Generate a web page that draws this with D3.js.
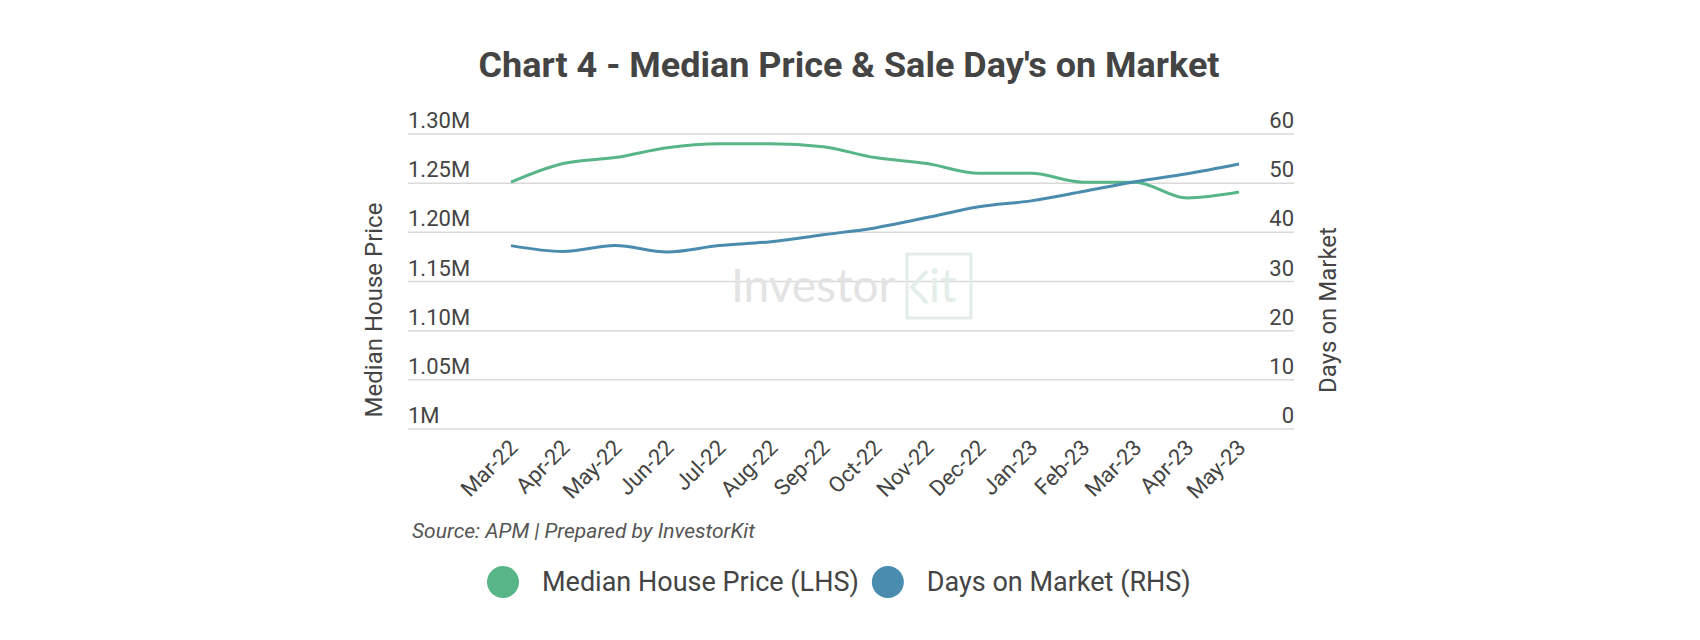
<!DOCTYPE html>
<html>
<head>
<meta charset="utf-8">
<script src="https://cdn.jsdelivr.net/npm/d3@7"></script>
<style>
  html, body { margin: 0; padding: 0; background: #fff; }
  svg { display: block; font-family: Roboto, "Noto Sans", sans-serif; }
</style>
</head>
<body>
<div id="chart"></div>
<script>
// data
const months = ["Mar-22", "Apr-22", "May-22", "Jun-22", "Jul-22", "Aug-22", "Sep-22", "Oct-22",
                "Nov-22", "Dec-22", "Jan-23", "Feb-23", "Mar-23", "Apr-23", "May-23"];
const medianPrice = [1.251, 1.270, 1.276, 1.286, 1.290, 1.290, 1.287, 1.276,
                     1.270, 1.260, 1.260, 1.251, 1.251, 1.235, 1.241];   // $M
const daysOnMarket = [37.3, 36.1, 37.3, 36.0, 37.3, 38.1, 39.5, 40.9,
                      43.0, 45.2, 46.4, 48.3, 50.3, 51.9, 53.9];
const leftTicks = [1.0, 1.05, 1.10, 1.15, 1.20, 1.25, 1.30];
const rightTicks = [0, 10, 20, 30, 40, 50, 60];
const series = [
  { name: "Median House Price (LHS)", color: "#58b588" },
  { name: "Days on Market (RHS)", color: "#4a8cae" }
];

const W = 1700, H = 640;
const ink = "#444";
const grid = { l: 408, r: 1294, t: 134, b: 429 };

const svg = d3.select("#chart").append("svg").attr("width", W).attr("height", H);

const x = d3.scaleBand().domain(months).range([485, 1265]);
const cx = m => x(m) + x.bandwidth() / 2;
const yL = d3.scaleLinear().domain([1.0, 1.3]).range([grid.b, grid.t]);
const yR = d3.scaleLinear().domain([0, 60]).range([grid.b, grid.t]);

// title
svg.append("text")
  .attr("x", 849).attr("y", 77)
  .attr("text-anchor", "middle")
  .attr("textLength", 741).attr("lengthAdjust", "spacingAndGlyphs")
  .style("font-size", "35px").style("font-weight", 700).style("fill", ink)
  .text("Chart 4 - Median Price & Sale Day's on Market");

// gridlines
svg.append("g").selectAll("line").data(leftTicks).join("line")
  .attr("x1", grid.l).attr("x2", grid.r)
  .attr("y1", d => yL(d)).attr("y2", d => yL(d))
  .attr("stroke", "#d9d9d9").attr("stroke-width", 1.5);

// watermark
const wm = svg.append("g");
wm.append("text").attr("x", 731).attr("y", 302)
  .style("font-size", "46px").style("fill", "#e3e3e3").style("font-family", "Lato, Roboto, sans-serif")
  .text("Investor");
wm.append("path")
  .attr("d", "M907,254 H971 V318 H907 Z")
  .attr("fill", "none").attr("stroke", "#e4eee8").attr("stroke-width", 3);
wm.append("path")
  .attr("d", "M927,271 L912,287 L927,303")
  .attr("fill", "none").attr("stroke", "#e4eee8").attr("stroke-width", 4);
wm.append("text").attr("x", 929).attr("y", 302)
  .style("font-size", "46px").style("fill", "#e4eee8").style("font-family", "Lato, Roboto, sans-serif")
  .text("it");

// y tick labels
svg.append("g").selectAll("text").data(leftTicks).join("text")
  .attr("x", grid.l).attr("y", d => yL(d) - 6)
  .style("font-size", "22px").style("fill", ink)
  .text(d => d === 1 ? "1M" : d.toFixed(2) + "M");
svg.append("g").selectAll("text").data(rightTicks).join("text")
  .attr("x", grid.r).attr("y", d => yR(d) - 6)
  .attr("text-anchor", "end")
  .style("font-size", "22px").style("fill", ink)
  .text(d => d);

// axis titles
svg.append("text").attr("transform", "translate(382,310) rotate(-90)")
  .attr("text-anchor", "middle").style("font-size", "24px").style("fill", ink)
  .text("Median House Price");
svg.append("text").attr("transform", "translate(1336,310) rotate(-90)")
  .attr("text-anchor", "middle").style("font-size", "24px").style("fill", ink)
  .text("Days on Market");

// x tick labels
svg.append("g").selectAll("text").data(months).join("text")
  .attr("transform", m => `translate(${cx(m) + 8},${449}) rotate(-45)`)
  .attr("text-anchor", "end")
  .style("font-size", "22px").style("fill", ink)
  .text(m => m);

// lines
const priceLine = d3.line().x((d, i) => cx(months[i])).y(d => yL(d)).curve(d3.curveMonotoneX);
const daysLine = d3.line().x((d, i) => cx(months[i])).y(d => yR(d)).curve(d3.curveMonotoneX);
svg.append("path").attr("d", priceLine(medianPrice))
  .attr("fill", "none").attr("stroke", series[0].color).attr("stroke-width", 3);
svg.append("path").attr("d", daysLine(daysOnMarket))
  .attr("fill", "none").attr("stroke", series[1].color).attr("stroke-width", 3);

// source
svg.append("text").attr("x", 412).attr("y", 538)
  .style("font-size", "21px").style("font-style", "italic").style("fill", "#555")
  .text("Source: APM | Prepared by InvestorKit");

// legend
let lx = 503;
series.forEach(s => {
  svg.append("circle").attr("cx", lx).attr("cy", 582).attr("r", 16).attr("fill", s.color);
  const t = svg.append("text").attr("x", lx + 39).attr("y", 591)
    .style("font-size", "27px").style("fill", ink).text(s.name);
  lx += 39 + t.node().getComputedTextLength() + 29;
});
</script>
</body>
</html>
